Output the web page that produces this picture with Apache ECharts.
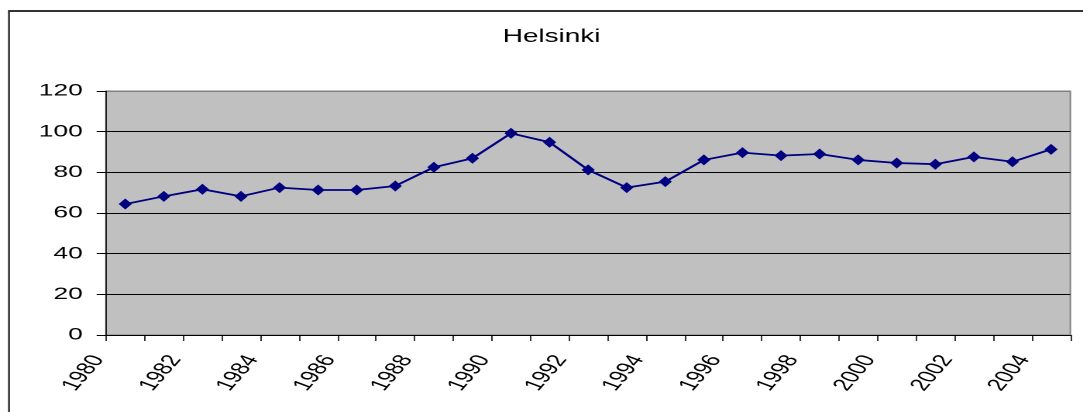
<!DOCTYPE html>
<html>
<head>
<meta charset="utf-8">
<script src="https://cdn.jsdelivr.net/npm/echarts@6/dist/echarts.min.js"></script>
<style>
  html, body { margin: 0; padding: 0; background: #fff; overflow: hidden; }
  #chart { position: absolute; left: 0; top: 0; width: 699px; height: 412px;
           transform: scaleX(1.5494); transform-origin: 0 0; }
</style>
</head>
<body>
<div id="chart"></div>
<script>
const title = 'Helsinki';
const years = ['1980','1981','1982','1983','1984','1985','1986','1987','1988','1989',
               '1990','1991','1992','1993','1994','1995','1996','1997','1998','1999',
               '2000','2001','2002','2003','2004'];
const values = [64.4, 68.2, 71.7, 68.2, 72.5, 71.3, 71.3, 73.3, 82.5, 86.9,
                99.2, 94.8, 81.2, 72.5, 75.4, 86.1, 89.7, 88.2, 89.0, 86.1,
                84.6, 84.0, 87.6, 85.2, 91.3];
const yTicks = [0, 20, 40, 60, 80, 100, 120];
const xStart = 1980, xEnd = 2005;

const FONT = '"Liberation Sans", Arial, sans-serif';
const chart = echarts.init(document.getElementById('chart'), null, { renderer: 'canvas', devicePixelRatio: 2 });

const option = {
  animation: false,
  title: {
    text: title, left: 351, top: 23, textAlign: 'center',
    textStyle: { fontFamily: FONT, fontSize: 18, fontWeight: 'normal', color: '#000' }
  },
  graphic: [
    { type: 'line', shape: { x1: 5.8, y1: 11, x2: 5.8, y2: 420 }, style: { stroke: '#333', lineWidth: 1.3 } },
    { type: 'line', shape: { x1: 5.2, y1: 11, x2: 720, y2: 11 }, style: { stroke: '#333', lineWidth: 2 } }
  ],
  grid: {
    left: 68.4, right: 8.2, top: 91, bottom: 77,
    show: true, backgroundColor: '#c0c0c0', borderColor: '#808080', borderWidth: 1
  },
  xAxis: [
    {
      type: 'category', data: years, boundaryGap: true, show: false
    },
    {
      type: 'value', min: xStart, max: xEnd, interval: 1, position: 'bottom',
      axisLine: { show: true, lineStyle: { color: '#000', width: 1 } },
      axisTick: { show: true, length: 6, lineStyle: { color: '#000', width: 0.8 } },
      splitLine: { show: false },
      axisLabel: {
        rotate: 60, margin: 13, color: '#000', fontFamily: FONT, fontSize: 17,
        padding: [0, 10, 0, 0],
        showMinLabel: true, showMaxLabel: true,
        formatter: v => (v % 2 === 0 ? String(v) : '')
      }
    }
  ],
  yAxis: {
    type: 'value', min: yTicks[0], max: yTicks[yTicks.length - 1], interval: 20,
    axisLine: { show: true, lineStyle: { color: '#000', width: 0.8 } },
    axisTick: { show: true, length: 6, lineStyle: { color: '#000', width: 1 } },
    splitLine: { show: true, lineStyle: { color: ['#000','#000','#000','#000','#000','#000','#808080'], width: 1 } },
    axisLabel: { margin: 15, color: '#000', fontFamily: FONT, fontSize: 17 }
  },
  series: [{
    type: 'line', xAxisIndex: 0, data: values,
    symbol: 'diamond', symbolSize: [8.5, 11], showAllSymbol: true,
    lineStyle: { color: '#000080', width: 1.8 },
    itemStyle: { color: '#000080' }
  }]
};
chart.setOption(option);
</script>
</body>
</html>
